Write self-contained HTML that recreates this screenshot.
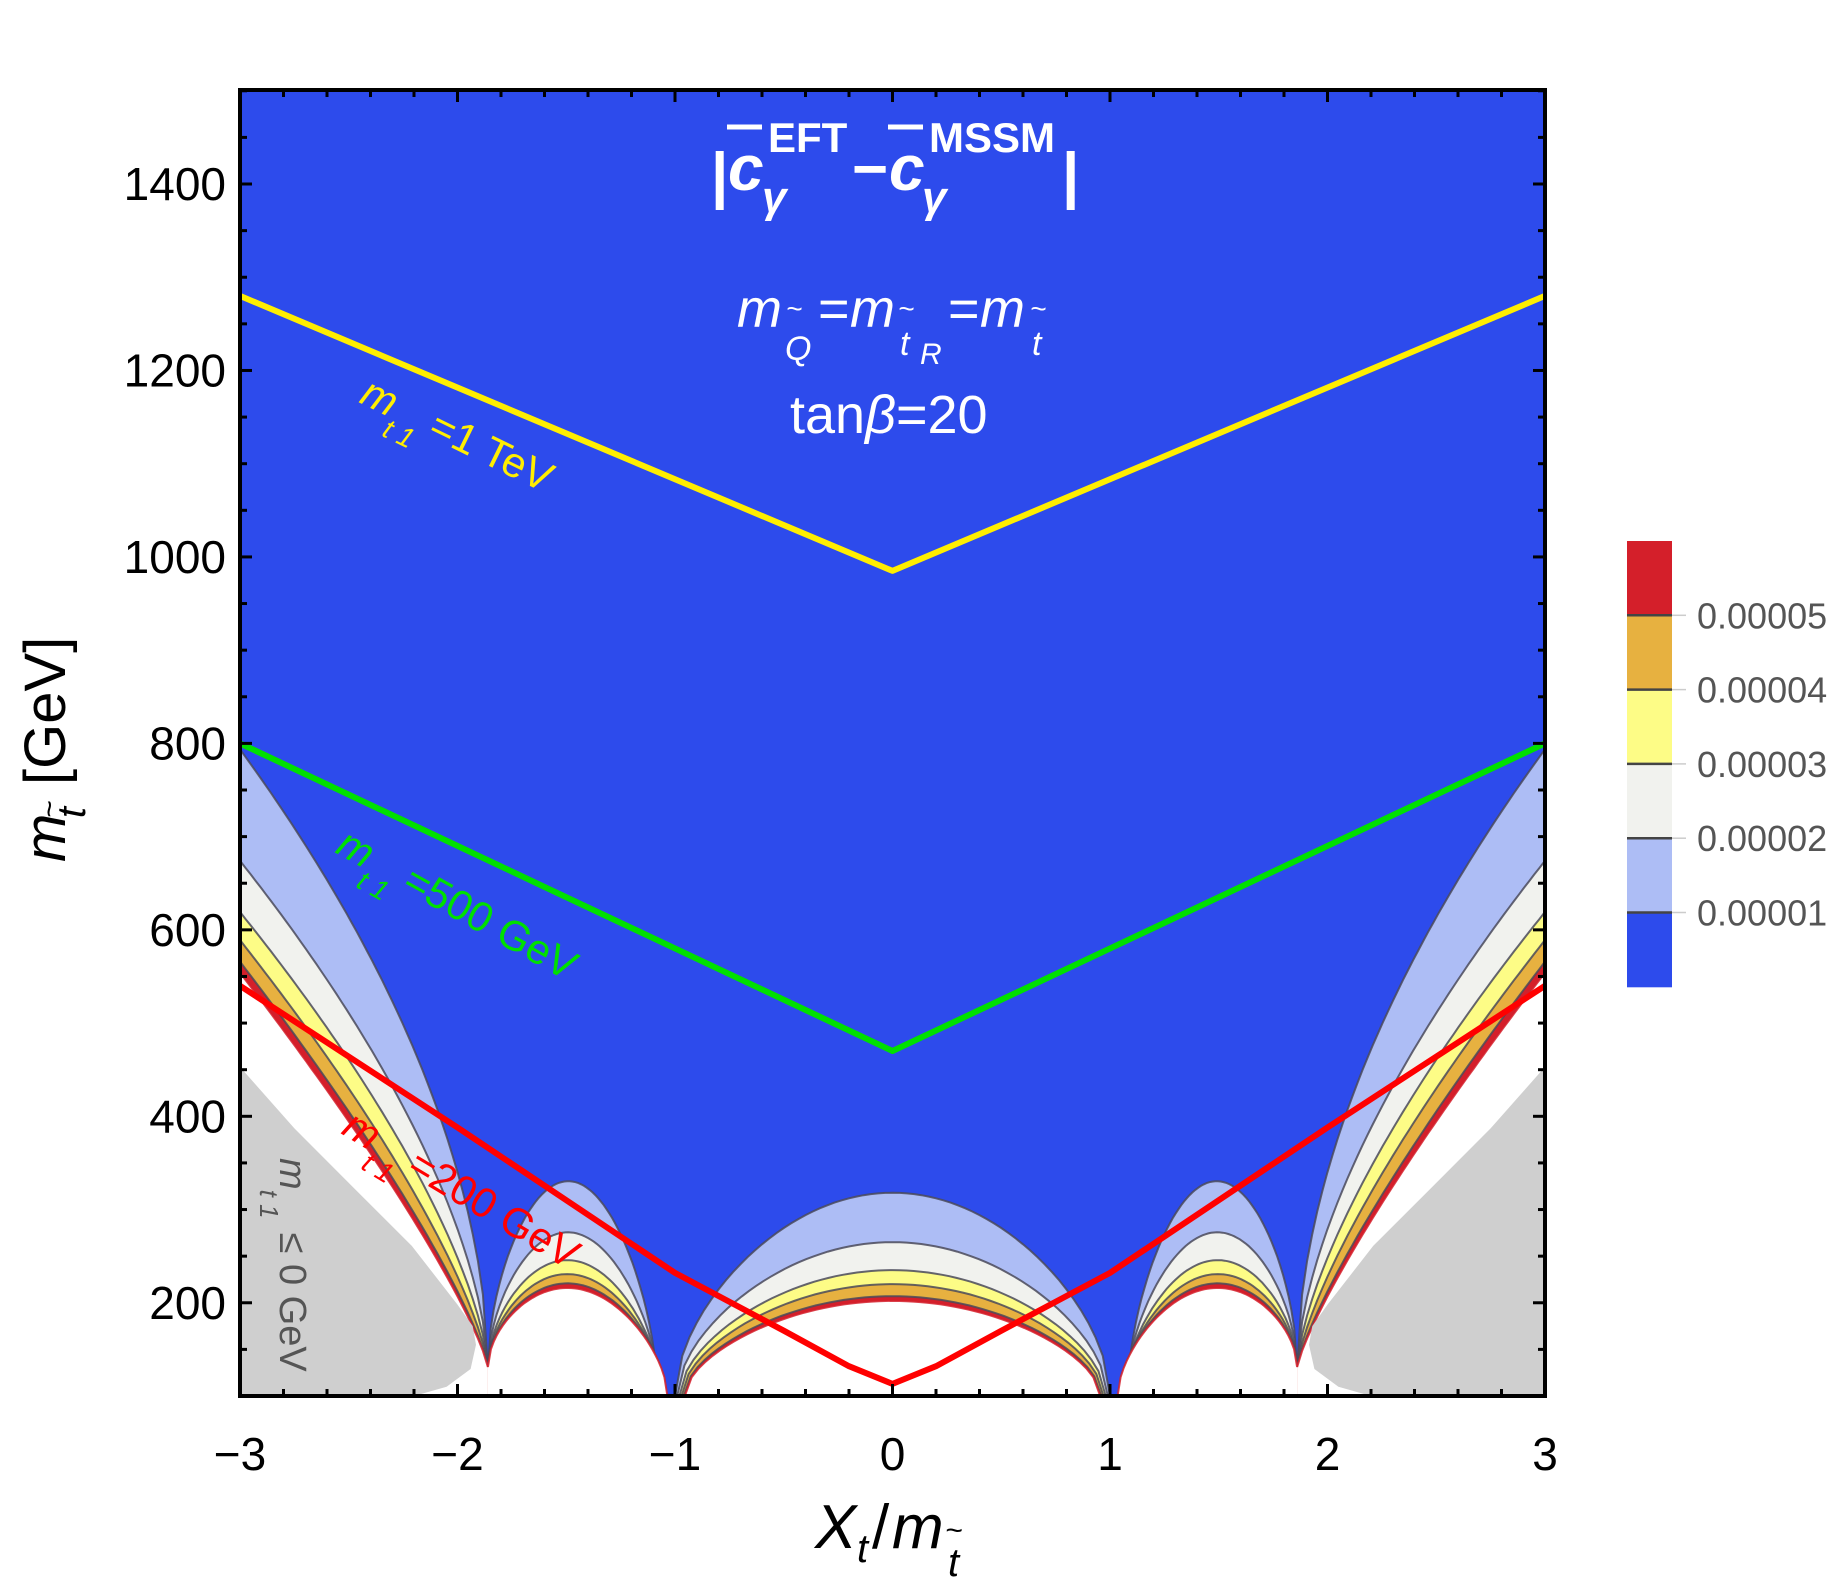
<!DOCTYPE html>
<html><head><meta charset="utf-8">
<style>
html,body{margin:0;padding:0;background:#fff;}
svg{display:block;font-family:"Liberation Sans",sans-serif;}
</style></head>
<body>
<svg id="chart" width="1842" height="1587" viewBox="0 0 1842 1587" xmlns="http://www.w3.org/2000/svg">
<defs><clipPath id="pc"><rect x="240" y="90" width="1305" height="1306"/></clipPath></defs>
<g id="plot" clip-path="url(#pc)"></g>
<g id="axes"></g>
<g id="labels">
  <g fill="#fff" font-weight="bold">
    <text x="711" y="196" font-size="62">|</text>
    <text x="728" y="190" font-size="64" font-style="italic">c</text>
    <text x="768" y="152" font-size="42">EFT</text>
    <text x="762" y="212" font-size="44" font-style="italic">γ</text>
    <text x="852" y="190" font-size="62">−</text>
    <text x="889" y="190" font-size="64" font-style="italic">c</text>
    <text x="929" y="152" font-size="42">MSSM</text>
    <text x="922" y="212" font-size="44" font-style="italic">γ</text>
    <text x="1062" y="196" font-size="62">|</text>
  </g>
  <line x1="727" y1="127" x2="762" y2="127" stroke="#fff" stroke-width="5"/>
  <line x1="888" y1="127" x2="923" y2="127" stroke="#fff" stroke-width="5"/>
  <g fill="#fff" font-style="italic">
    <text x="737" y="327" font-size="54">m</text>
    <text x="786" y="318" font-size="28">~</text>
    <text x="785" y="360" font-size="34">Q</text>
    <text x="818" y="327" font-size="54" font-style="normal">=</text>
    <text x="850" y="327" font-size="54">m</text>
    <text x="898" y="318" font-size="28">~</text>
    <text x="900" y="355" font-size="34">t</text>
    <text x="920" y="364" font-size="30">R</text>
    <text x="948" y="327" font-size="54" font-style="normal">=</text>
    <text x="980" y="327" font-size="54">m</text>
    <text x="1030" y="318" font-size="28">~</text>
    <text x="1032" y="355" font-size="34">t</text>
  </g>
  <text x="790" y="433" fill="#fff" font-size="54">tan<tspan font-style="italic">β</tspan>=20</text>
  <text transform="translate(358,402) rotate(26)" fill="#ffee00" font-size="42"><tspan font-style="italic">m</tspan><tspan font-size="28" dy="20" font-style="italic">t 1</tspan><tspan dy="-20" dx="10">=1 TeV</tspan></text>
  <text transform="translate(334,852) rotate(29)" fill="#00e000" font-size="42"><tspan font-style="italic">m</tspan><tspan font-size="28" dy="20" font-style="italic">t 1</tspan><tspan dy="-20" dx="10">=500 GeV</tspan></text>
  <text transform="translate(340,1133) rotate(31)" fill="#ff0000" font-size="42"><tspan font-style="italic">m</tspan><tspan font-size="28" dy="20" font-style="italic">t 1</tspan><tspan dy="-20" dx="10">=200 GeV</tspan></text>
  <text transform="translate(280,1158) rotate(90)" fill="#555" font-size="38"><tspan font-style="italic">m</tspan><tspan font-size="26" dy="20" font-style="italic">t 1</tspan><tspan dy="-20" dx="14">≤ 0 GeV</tspan></text>
  <g font-style="italic">
    <text x="815" y="1548" font-size="62">X</text>
    <text x="857" y="1562" font-size="40">t</text>
    <text x="872" y="1548" font-size="62" font-style="normal">/</text>
    <text x="892" y="1548" font-size="62">m</text>
    <text x="945" y="1540" font-size="30">~</text>
    <text x="948" y="1576" font-size="40">t</text>
  </g>
  <text transform="translate(65,862) rotate(-90)" font-size="58"><tspan font-style="italic">m</tspan><tspan font-size="30" dx="-4" dy="-6">~</tspan><tspan font-size="40" dx="-18" dy="26" font-style="italic">t</tspan><tspan dy="-20" dx="22">[GeV]</tspan></text>
</g>
<g id="legend"></g>
</svg>
<script>
const NS="http://www.w3.org/2000/svg";
// data
const xTicks=[-3,-2,-1,0,1,2,3];
const yTicks=[200,400,600,800,1000,1200,1400];
const levelValues=[0.00001,0.00002,0.00003,0.00004,0.00005];
const levelLabels=["0.00001","0.00002","0.00003","0.00004","0.00005"];
const bandColors=["#2d4bec","#adbdf5","#f1f2ee","#fdfc86","#e7b140","#d41f2a"];
const wedgeEdge=[800,680,625,595,572,560];
const wedgeExp=[0.55,0.62,0.68,0.74,0.8,0.82];
const sideLobePeak=[330,275,245,230,220,215];
const centerLobePeak=[318,265,235,220,207,202];
const centerHalfWidth=[1.0,0.99,0.98,0.97,0.96,0.955];
const sideLobeEnd=[1.08,1.07,1.06,1.05,1.04,1.035];
const grayX=[-3,-2.75,-2.48,-2.21,-2.0,-1.93,-1.915,-1.94,-2.05,-2.2];
const grayY=[453,387,324,261,198,175,155,129,110,100];
const yellowX=[-3,0,3], yellowY=[1280,985,1280];
const greenX=[-3,0,3], greenY=[800,470,800];
const redX=[-3,-2,-1,-0.5,-0.2,0,0.2,0.5,1,2,3];
const redY=[540,388,232,170,132,113,132,170,232,388,540];
const cusp=[1.86,131];

const X=x=>240+(x+3)*217.5;
const Y=y=>1396-(y-100)*0.9323;
function el(tag,attrs,parent){const e=document.createElementNS(NS,tag);for(const k in attrs)e.setAttribute(k,attrs[k]);parent.appendChild(e);return e;}
const plot=document.getElementById('plot');
const bg=el('rect',{x:240,y:90,width:1305,height:1306,fill:bandColors[0]},plot);



function pts(arr){return arr.map(p=>X(p[0]).toFixed(1)+','+Y(p[1]).toFixed(1)).join(' ');}
function wedgeCurve(i,side){
  const out=[];const N=50;
  for(let k=0;k<=N;k++){const u=k/N;const x=-(cusp[0]+1.16*u);const y=cusp[1]+(wedgeEdge[i]-cusp[1])*Math.pow(u,wedgeExp[i]);out.push([side*x,y]);}
  return out;
}
function domeCurve(x0,y0,x1,y1,peak){
  const out=[];const N=60;
  for(let k=0;k<=N;k++){const t=k/N;const x=x0+(x1-x0)*t;const b=y0+(y1-y0)*t;const h=peak-(y0+y1)/2;out.push([x,b+h*Math.pow(Math.sin(Math.PI*t),0.55)]);}
  return out;
}
for(let i=0;i<wedgeEdge.length;i++){
  const fill=i<5?bandColors[i+1]:'#ffffff';
  const stroke=i<5?'#4a4a5a':'#d41f2a';
  const wl=wedgeCurve(i,1), wr=wedgeCurve(i,-1);
  const dl=domeCurve(-cusp[0],cusp[1],-sideLobeEnd[i],100,sideLobePeak[i]);
  const dr=domeCurve(sideLobeEnd[i],100,cusp[0],cusp[1],sideLobePeak[i]);
  const dc=domeCurve(-centerHalfWidth[i],100,centerHalfWidth[i],100,centerLobePeak[i]);
  const shapes=[
    ['left-wedge',wl,wl.concat([[-3.2,wedgeEdge[i]],[-3.2,80],[-cusp[0],80]])],
    ['right-wedge',wr,wr.concat([[3.2,wedgeEdge[i]],[3.2,80],[cusp[0],80]])],
    ['left-lobe',dl,dl.concat([[-sideLobeEnd[i],80],[-cusp[0],80]])],
    ['right-lobe',dr,dr.concat([[cusp[0],80],[sideLobeEnd[i],80]])],
    ['center-lobe',dc,dc.concat([[centerHalfWidth[i],80],[-centerHalfWidth[i],80]])]
  ];
  shapes.forEach(s=>{
    const p=el('polygon',{points:pts(s[2]),fill:fill},plot);
    
    
    const c=el('polyline',{points:pts(s[1]),fill:'none',stroke:stroke,'stroke-width':2,'stroke-opacity':0.85},plot);
    
    
  });
}
[1,-1].forEach(s=>{
  const g=el('polygon',{points:pts(grayX.map((x,i)=>[s*x,grayY[i]]).concat([[s*-3.2,90],[s*-3.2,453]])),fill:'#cfcfcf'},plot);
  
  
});
function line(xs,ys,color,name){
  const l=el('polyline',{points:pts(xs.map((x,i)=>[x,ys[i]])),fill:'none',stroke:color,'stroke-width':6,'stroke-linejoin':'round'},plot);
  
  
}
line(yellowX,yellowY,'#ffee00','line-1tev');
line(greenX,greenY,'#00e000','line-500gev');
line(redX,redY,'#ff0000','line-200gev');

// axes
const axes=document.getElementById('axes');
const fr=el('rect',{x:240,y:90,width:1305,height:1306,fill:'none',stroke:'#000','stroke-width':4},axes);


for(let k=0;k<=30;k++){const x=-3+k*0.2;const major=k%5===0;const len=major?12:7;
  el('line',{x1:X(x),y1:1396,x2:X(x),y2:1396-len,stroke:'#000','stroke-width':3},axes);
  el('line',{x1:X(x),y1:90,x2:X(x),y2:90+len,stroke:'#000','stroke-width':3},axes);}
for(let k=0;k<=28;k++){const y=100+k*50;const major=y%200===0;const len=major?12:7;
  el('line',{x1:240,y1:Y(y),x2:240+len,y2:Y(y),stroke:'#000','stroke-width':3},axes);
  el('line',{x1:1545,y1:Y(y),x2:1545-len,y2:Y(y),stroke:'#000','stroke-width':3},axes);}
xTicks.forEach(v=>{const t=el('text',{x:X(v),y:1470,'font-size':46,'text-anchor':'middle'},axes);t.textContent=(v<0?'−':'')+Math.abs(v);
  
  });
yTicks.forEach(v=>{const t=el('text',{x:226,y:Y(v)+16,'font-size':46,'text-anchor':'end'},axes);t.textContent=v;
  
  });

// colorbar
const leg=document.getElementById('legend');
const cbTop=541, cbStep=74.3;
for(let i=0;i<6;i++){const r=el('rect',{x:1627,y:cbTop+(5-i)*cbStep,width:45,height:cbStep+0.5,fill:bandColors[i]},leg);
  
  }
levelValues.forEach((v,i)=>{const y=cbTop+(5-i-1)*cbStep+cbStep;
  el('line',{x1:1627,y1:y,x2:1672,y2:y,stroke:'#444','stroke-width':2.5},leg);
  el('line',{x1:1672,y1:y,x2:1686,y2:y,stroke:'#ccc','stroke-width':1.5},leg);
  const t=el('text',{x:1697,y:y+13,'font-size':36,fill:'#555'},leg);t.textContent=levelLabels[i];
  
  });
</script>
</body></html>
